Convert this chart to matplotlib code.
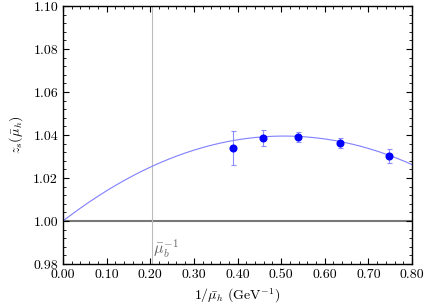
import matplotlib
matplotlib.use("Agg")
import matplotlib.pyplot as plt
import numpy as np
from matplotlib.ticker import MultipleLocator, FormatStrFormatter

plt.rcParams['font.family'] = 'serif'
plt.rcParams['font.serif'] = ['cmr10', 'DejaVu Serif']
plt.rcParams['mathtext.fontset'] = 'cm'
plt.rcParams['axes.formatter.use_mathtext'] = True

# data points
x_data = [0.390, 0.459, 0.539, 0.635, 0.748]
y_data = [1.0340, 1.0386, 1.0391, 1.0363, 1.0302]
y_err = [0.0080, 0.0038, 0.0024, 0.0025, 0.0031]

# fit curve z = 1 + a x + b x^2
fit_coeffs = [1.0, 0.156, -0.154]

mu_b_inv = 0.204
x_range = [0.0, 0.8]
y_range = [0.98, 1.10]

fig = plt.figure(figsize=(4.24, 3.06), dpi=100)
ax = fig.add_axes([0.1486, 0.1373, 0.8231, 0.8431])

xs = np.linspace(x_range[0], x_range[1], 200)
ys = fit_coeffs[0] + fit_coeffs[1] * xs + fit_coeffs[2] * xs**2
ax.plot(xs, ys, color='#7f7fff', lw=0.8, zorder=2)

ax.axhline(1.0, color='#777777', lw=1.5, zorder=1)
ax.axvline(mu_b_inv, color='#bbbbbb', lw=0.8, zorder=1)

ax.errorbar(x_data, y_data, yerr=y_err, fmt='none', ecolor='#8c8cff',
            elinewidth=0.8, capsize=1.8, capthick=0.8, zorder=3)
ax.plot(x_data, y_data, 'o', color='#0000ff', ms=4.8, zorder=4)

ax.text(mu_b_inv + 0.003, 0.9818, r'$\bar{\mu}_b^{-1}$', color='#666666',
        fontsize=11.5, ha='left', va='bottom')

ax.set_xlim(*x_range)
ax.set_ylim(*y_range)
ax.xaxis.set_major_locator(MultipleLocator(0.1))
ax.xaxis.set_minor_locator(MultipleLocator(0.02))
ax.yaxis.set_major_locator(MultipleLocator(0.02))
ax.yaxis.set_minor_locator(MultipleLocator(0.004))
ax.xaxis.set_major_formatter(FormatStrFormatter('%.2f'))
ax.yaxis.set_major_formatter(FormatStrFormatter('%.2f'))
ax.tick_params(which='both', direction='in', top=True, right=True, labelsize=10)
ax.tick_params(which='major', length=4, width=0.8)
ax.tick_params(which='minor', length=2, width=0.6)
for s in ax.spines.values():
    s.set_linewidth(1.0)

ax.set_xlabel(r'$1/\bar{\mu}_h\ (\mathrm{GeV}^{-1})$', fontsize=10, labelpad=4)
ax.set_ylabel(r'$z_s(\bar{\mu}_h)$', fontsize=10, labelpad=6)

fig.savefig('out.png', dpi=100)
